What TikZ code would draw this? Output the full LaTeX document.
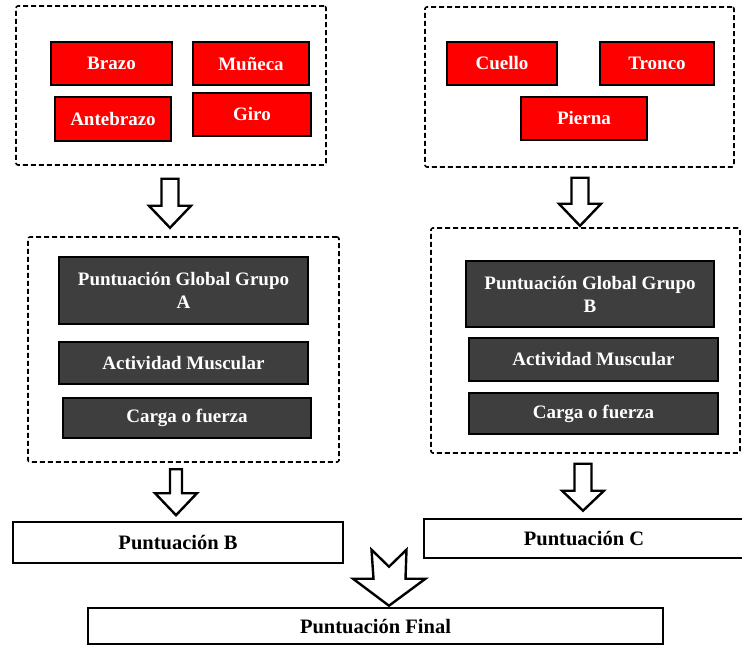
\documentclass[tikz,border=0pt]{standalone}
\usepackage{fontspec}
\setmainfont{Liberation Serif}
\usetikzlibrary{calc}
\definecolor{redfill}{RGB}{255,0,0}
\definecolor{darkfill}{RGB}{62,62,62}
\begin{document}
\begin{tikzpicture}[x=1pt,y=-1pt,
  txt/.style={font=\fontsize{19}{23}\selectfont\bfseries, align=center, inner sep=0pt},
  dashbox/.style={draw=black, line width=1.6pt, dash pattern=on 5pt off 3pt, rounded corners=2pt},
  redbox/.style={txt, draw=black, fill=redfill, line width=1.6pt, text=white},
  darkbox/.style={txt, draw=black, fill=darkfill, line width=1.6pt, text=white},
  whitebox/.style={txt, font=\fontsize{20.5}{24}\selectfont\bfseries, draw=black, fill=white, line width=2.6pt, text=black},
  blk/.style={draw=black, fill=white, line width=2.4pt, line join=miter}]
\useasboundingbox (0,0) rectangle (742,647);

% top left group
\node[dashbox, minimum width=310pt, minimum height=159pt] (dA) at (171,85.5) {};
\node[redbox, minimum width=121pt, minimum height=43pt] (brazo) at (111.5,63.5) {Brazo};
\node[redbox, minimum width=116pt, minimum height=43pt] (muneca) at (251,63.5) {Muñeca};
\node[redbox, minimum width=116pt, minimum height=44pt] (antebrazo) at (113,119) {Antebrazo};
\node[redbox, minimum width=118pt, minimum height=43pt] (giro) at (252,114.5) {Giro};

% top right group
\node[dashbox, minimum width=309pt, minimum height=160pt] (dB) at (579.5,87) {};
\node[redbox, minimum width=110pt, minimum height=43pt] (cuello) at (502,63.5) {Cuello};
\node[redbox, minimum width=114pt, minimum height=43pt] (tronco) at (657,63.5) {Tronco};
\node[redbox, minimum width=126pt, minimum height=43pt] (pierna) at (584,118.5) {Pierna};

% middle left group
\node[dashbox, minimum width=311pt, minimum height=225pt] (mA) at (183.5,349.5) {};
\node[darkbox, minimum width=249pt, minimum height=67pt] (pggA) at (183.5,290.5) {Puntuación Global Grupo\\A};
\node[darkbox, minimum width=249pt, minimum height=42pt] (actA) at (183.5,363) {Actividad Muscular};
\node[darkbox, minimum width=248pt, minimum height=40pt] (cargaA) at (187,418) {Carga o fuerza};

% middle right group
\node[dashbox, minimum width=309pt, minimum height=225pt] (mB) at (585.5,340.5) {};
\node[darkbox, minimum width=248pt, minimum height=66pt] (pggB) at (590,294) {Puntuación Global Grupo\\B};
\node[darkbox, minimum width=249pt, minimum height=43pt] (actB) at (593.5,359.5) {Actividad Muscular};
\node[darkbox, minimum width=249pt, minimum height=41pt] (cargaB) at (593.5,413.5) {Carga o fuerza};

% result boxes
\node[whitebox, minimum width=330pt, minimum height=41pt] (pB) at (178,542.5) {Puntuación B};
\node[whitebox, minimum width=320pt, minimum height=39pt] (pC) at (584,538.5) {Puntuación C};
\node[whitebox, minimum width=575pt, minimum height=36pt] (pF) at (375.5,626) {Puntuación Final};

% block arrows
\coordinate (tA1) at ($(dA.south)+(-1,62)$);
\draw[blk] (tA1) -- ++(-21,-22) -- ++(12.5,0) -- ++(0,-27) -- ++(17,0) -- ++(0,27) -- ++(12.5,0) -- cycle;
\coordinate (tB1) at ($(dB.south)+(0.5,58)$);
\draw[blk] (tB1) -- ++(-21,-22) -- ++(12.5,0) -- ++(0,-26) -- ++(17,0) -- ++(0,26) -- ++(12.5,0) -- cycle;
\coordinate (tA2) at ($(pB.north)+(-2,-5.5)$);
\draw[blk] (tA2) -- ++(-21,-22) -- ++(15,0) -- ++(0,-24) -- ++(12,0) -- ++(0,24) -- ++(15,0) -- cycle;
\coordinate (tB2) at ($(pC.north)+(-1,-7)$);
\draw[blk] (tB2) -- ++(-21,-20) -- ++(12.5,0) -- ++(0,-27) -- ++(17,0) -- ++(0,27) -- ++(12.5,0) -- cycle;
\coordinate (tF) at ($(pF.north)+(13.5,-1)$);
\draw[blk] (tF) -- ++(-36,-27) -- ++(20.5,0) -- ++(-2,-29) -- ++(17.5,17) -- ++(17.5,-17) -- ++(-1,29) -- ++(20,0) -- cycle;
\end{tikzpicture}
\end{document}
